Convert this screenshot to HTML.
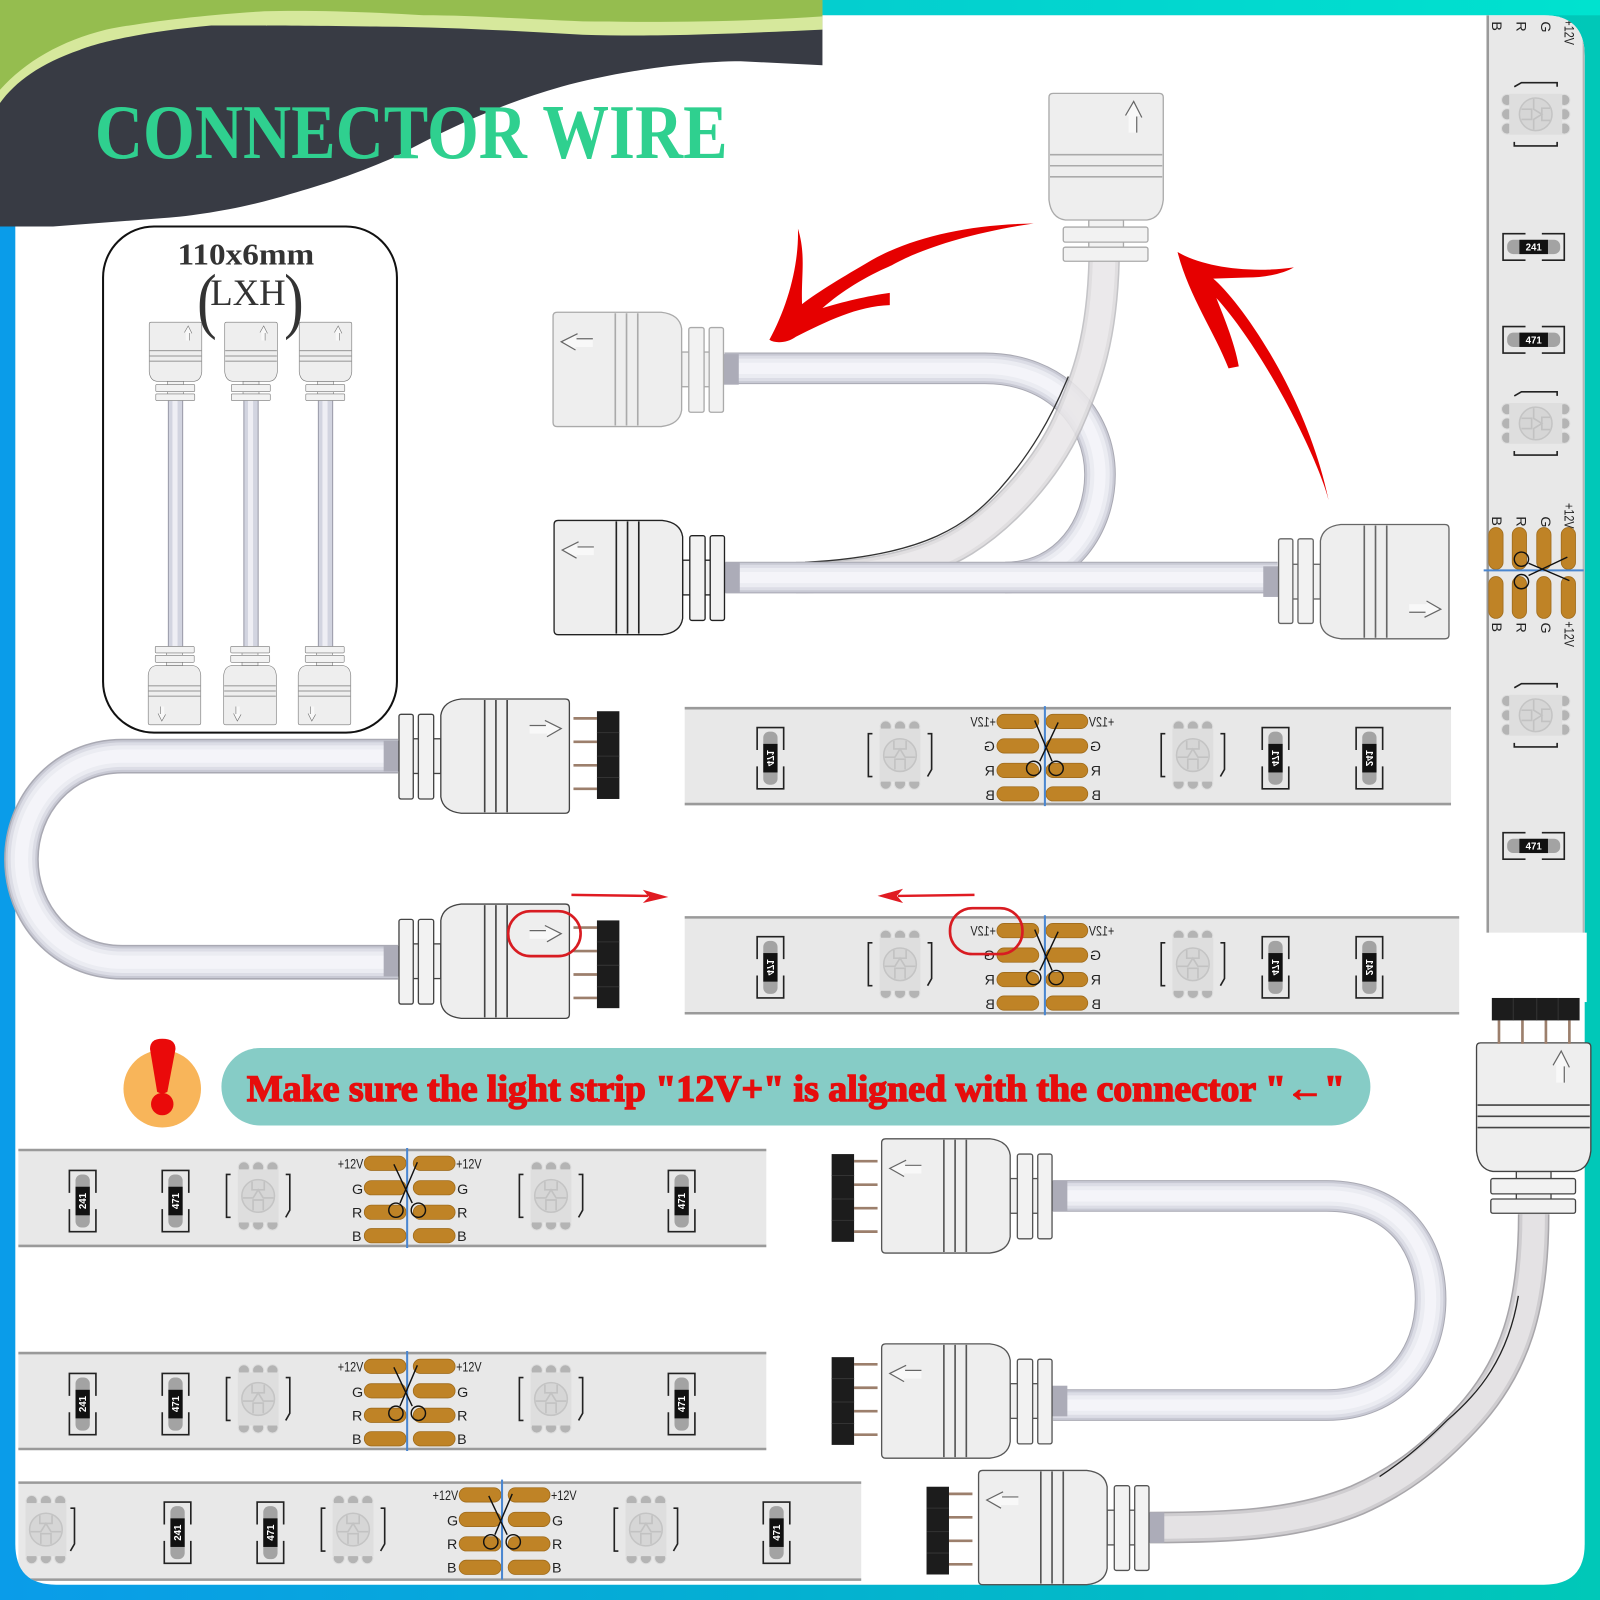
<!DOCTYPE html>
<html><head><meta charset="utf-8"><title>Connector Wire</title>
<style>
html,body{margin:0;padding:0;background:#fff}
svg{display:block}
text{font-family:"Liberation Sans",sans-serif}
.s{font-family:"Liberation Serif",serif}
.l{font-size:14px;fill:#222}
.rt{font-size:9.5px;font-weight:bold;fill:#fff;text-anchor:middle}
.cb{fill:none}
.c1{stroke:#a9a9b3;stroke-width:31}
.c2{stroke:#c8c9d4;stroke-width:29}
.c3{stroke:#dcdde6;stroke-width:25}
.c4{stroke:#ebecf2;stroke-width:19}
.c5{stroke:#f4f4f9;stroke-width:11}
</style></head><body>
<svg xmlns="http://www.w3.org/2000/svg" width="1600" height="1600" viewBox="0 0 1568 1568">
<defs>
<linearGradient id="fr" x1="0" y1="0" x2="1" y2="0"><stop offset="0" stop-color="#0a9ce9"/><stop offset=".4" stop-color="#05acd6"/><stop offset="1" stop-color="#00c8b8"/></linearGradient>
<linearGradient id="tp" x1="0" y1="0" x2="1" y2="0"><stop offset="0" stop-color="#08b8cf"/><stop offset="1" stop-color="#00e2cf"/></linearGradient>
<clipPath id="panel"><path d="M15,15H1513Q1553,15 1553,55V1513Q1553,1553 1513,1553H55Q15,1553 15,1513Z"/></clipPath>

<path id="cy" d="M1082,255C1080,330 1066,370 1046,415C1025,460 985,505 945,530C900,558 840,566 780,566"/>
<path id="ct" d="M710,361H965C1035,361 1078,410 1078,465C1078,515 1045,566 985,566"/>
<path id="cs" d="M711,566H1252"/>
<path id="cl" d="M390,741H120C60,741 21,790 21,842C21,895 60,943 120,943H390"/>
<path id="cr" d="M1032,1172H1300C1370,1172 1402,1220 1402,1273C1402,1330 1365,1377 1300,1377H1032"/>
<path id="cb" d="M1503,1190C1503,1280 1485,1340 1436,1392C1405,1425 1375,1450 1330,1470C1270,1495 1200,1497 1127,1497"/>

<g id="conn">
<g stroke="currentColor" stroke-width="1.3" fill="#f2f2f2">
<rect x="13" y="-17" width="8" height="34"/>
<rect x="34" y="-17" width="8" height="34"/>
<rect x="1" y="-41" width="14" height="83" rx="2"/>
<rect x="20" y="-41" width="15" height="83" rx="2"/>
<path d="M42,-40Q44,-54 62,-56H164Q168,-56 168,-52V52Q168,56 164,56H62Q44,54 42,40Z" fill="#eeeeee"/>
</g>
<path d="M85,-55V55M96,-55V55M107,-55V55" stroke="currentColor" stroke-width="1.6" fill="none"/>
<path d="M129,-31H146L145,-35L160,-27L146,-19V-22H129Z" fill="#f8f8f8" stroke="none"/>
<path d="M129,-30H145M144,-35L160,-27L146,-19" stroke="#666" stroke-width="1.2" fill="none"/>
</g>
<g id="connb">
<rect x="-14" y="-15" width="15" height="30" fill="#acacb8"/>
<use href="#conn"/>
</g>

<g id="plug">
<rect x="-67" y="-52" width="68" height="102" fill="#fff"/>
<g stroke="#9c7f6c" stroke-width="2.6"><path d="M-108,-36H-85M-108,-13H-85M-108,10H-85M-108,33H-85"/></g>
<rect x="-85" y="-43" width="22" height="86" fill="#1c1c1c"/>
<path d="M-85,-22H-63M-85,1H-63M-85,22H-63" stroke="#333" stroke-width="1"/>
</g>

<g id="pads">
<g fill="#bf8326" stroke="#a06c1c" stroke-width=".8">
<rect x="-47" y="-41" width="41" height="14" rx="7"/><rect x="1" y="-41" width="41" height="14" rx="7"/>
<rect x="-47" y="-17" width="41" height="14" rx="7"/><rect x="1" y="-17" width="41" height="14" rx="7"/>
<rect x="-47" y="7" width="41" height="14" rx="7"/><rect x="1" y="7" width="41" height="14" rx="7"/>
<rect x="-47" y="30" width="41" height="14" rx="7"/><rect x="1" y="30" width="41" height="14" rx="7"/>
</g>
<path d="M0,-49V49" stroke="#4a86d0" stroke-width="2" fill="none"/>
<g stroke="#111" stroke-width="1.4" fill="none">
<path d="M-10,-35L7,5M13,-33L-5,5"/>
<circle cx="-11" cy="12" r="7"/><circle cx="11" cy="12" r="7"/>
</g>
</g>

<g id="res">
<path d="M-13,-8V-30H13V-8M-13,8V30H13V8" fill="none" stroke="#222" stroke-width="1.6"/>
<rect x="-7" y="-26" width="14" height="52" rx="6" fill="#a3a3a3"/>
<rect x="-7" y="-14" width="14" height="28" fill="#111"/>
</g>
<g id="resh">
<path d="M-8,-13H-30V13H-8M8,-13H30V13H8" fill="none" stroke="#222" stroke-width="1.6"/>
<rect x="-26" y="-7" width="52" height="14" rx="6" fill="#a3a3a3"/>
<rect x="-14" y="-7" width="28" height="14" fill="#111"/>
</g>

<g id="ledb">
<g fill="#b4b4b4" stroke="#ddd" stroke-width="1">
<circle cx="-14" cy="-28" r="5.5"/><circle cx="0" cy="-28" r="5.5"/><circle cx="14" cy="-28" r="5.5"/>
<circle cx="-14" cy="28" r="5.5"/><circle cx="0" cy="28" r="5.5"/><circle cx="14" cy="28" r="5.5"/>
</g>
<rect x="-20" y="-26" width="40" height="52" fill="#dedede"/>
<circle r="16" fill="#d6d6d6" stroke="#c4c4c4" stroke-width="1.5"/>
<path d="M-6,-14V-6H6V-14M-15,2H-5L0,-6L5,2H15M-5,14V4H5V14" fill="none" stroke="#c2c2c2" stroke-width="1.6"/>
</g>
<g id="led">
<use href="#ledb"/>
<path d="M-27,-21H-31V21H-27M27,-21H31V14L27,21" fill="none" stroke="#222" stroke-width="1.6"/>
</g>
</defs>

<!-- frame -->
<rect width="1568" height="1568" fill="url(#fr)"/>
<rect width="1568" height="15" fill="url(#tp)"/>
<path d="M15,15H1513Q1553,15 1553,55V1513Q1553,1553 1513,1553H55Q15,1553 15,1513Z" fill="#fff"/>

<!-- banner -->
<path d="M0,0H806V64L726,60C670,60 597,72 550,85C493,101 440,125 389,153C350,170 320,180 285,190C240,204 190,212 156,214L52,222H0Z" fill="#383b44"/>
<path d="M0,0H806V29C700,34 640,36 571,34C500,30 430,26 363,26C290,25 240,25 207,25C150,30 100,40 78,49C40,62 15,80 0,101Z" fill="#d6e89c"/>
<path d="M0,0H806V16C720,22 640,22 571,21C500,18 460,15 415,15C350,11 300,10 259,11C210,14 150,20 104,29C60,40 25,60 0,88Z" fill="#95bd4f"/>
<text class="s" x="93" y="155" font-size="76" font-weight="bold" fill="#2fd08f" textLength="620" lengthAdjust="spacingAndGlyphs">CONNECTOR WIRE</text>

<!-- dimension box -->
<rect x="101" y="222" width="288" height="496" rx="50" fill="#fff" stroke="#111" stroke-width="2"/>
<text class="s" x="174" y="259" font-size="30" font-weight="bold" fill="#333" textLength="134" lengthAdjust="spacingAndGlyphs">110x6mm</text>
<text class="s" x="243" y="299" font-size="36" fill="#333" text-anchor="middle">LXH</text>
<text class="s" x="194" y="318" font-size="72" fill="#333" transform="translate(38,0) scale(.8,1)">(</text>
<text class="s" x="348" y="318" font-size="72" fill="#333" transform="scale(.8,1)">)</text>
<g fill="#d2d4e0" stroke="#9a9aa8" stroke-width="1">
<rect x="165" y="390" width="14" height="246"/><rect x="239" y="390" width="14" height="246"/><rect x="312" y="390" width="14" height="246"/>
</g>
<g fill="#eeeef4"><rect x="169" y="390" width="5" height="246"/><rect x="243" y="390" width="5" height="246"/><rect x="316" y="390" width="5" height="246"/></g>
<g style="color:#777">
<use href="#conn" transform="translate(172,393) rotate(-90) scale(.46,-.46)"/>
<use href="#conn" transform="translate(246,393) rotate(-90) scale(.46,-.46)"/>
<use href="#conn" transform="translate(319,393) rotate(-90) scale(.46,-.46)"/>
<use href="#conn" transform="translate(171,633) rotate(90) scale(.46,-.46)"/>
<use href="#conn" transform="translate(245,633) rotate(90) scale(.46,-.46)"/>
<use href="#conn" transform="translate(318,633) rotate(90) scale(.46,-.46)"/>
</g>

<!-- cables: upper group -->
<g class="cb">
<use href="#ct" class="c1"/><use href="#ct" class="c2"/><use href="#ct" class="c3"/><use href="#ct" class="c4"/><use href="#ct" class="c5"/>
</g>
<g class="cb" opacity=".88">
<use href="#cy" stroke="#bdbcc0" stroke-width="31"/>
<use href="#cy" stroke="#dcdadc" stroke-width="28"/>
<use href="#cy" stroke="#e9e7e9" stroke-width="22"/>
</g>
<path d="M1047,369C1030,410 1010,445 979,480C950,512 910,545 789,551" fill="none" stroke="#333" stroke-width="1.3"/>
<g class="cb">
<use href="#cs" class="c1"/><use href="#cs" class="c2"/><use href="#cs" class="c3"/><use href="#cs" class="c4"/><use href="#cs" class="c5"/>
</g>

<!-- cables: left loop -->
<g class="cb" style="transform-origin:0 0">
<use href="#cl" stroke="#a9a9b3" stroke-width="34"/><use href="#cl" stroke="#c8c9d4" stroke-width="31"/><use href="#cl" stroke="#dcdde6" stroke-width="27"/><use href="#cl" stroke="#ebecf2" stroke-width="21"/><use href="#cl" stroke="#f4f4f9" stroke-width="13"/>
</g>
<!-- cables: right loop -->
<g class="cb">
<use href="#cr" class="c1"/><use href="#cr" class="c2"/><use href="#cr" class="c3"/><use href="#cr" class="c4"/><use href="#cr" class="c5"/>
</g>
<!-- cable: big bottom -->
<g class="cb">
<use href="#cb" stroke="#a8a6aa" stroke-width="31"/>
<use href="#cb" stroke="#cfcdd0" stroke-width="28"/>
<use href="#cb" stroke="#e4e2e4" stroke-width="22"/>
<path stroke="#222" stroke-width="1.3" d="M1488,1270C1478,1330 1450,1365 1418,1392C1395,1415 1375,1432 1352,1447"/>
</g>

<!-- connectors -->
<use href="#conn" style="color:#aaa" transform="translate(1084,257) rotate(-90) scale(.985,-1)"/>
<use href="#connb" style="color:#aaa" transform="translate(710,362) scale(-1,1)"/>
<use href="#connb" style="color:#222" transform="translate(711,566) scale(-1,1)"/>
<use href="#connb" style="color:#666" transform="translate(1252,570) scale(1,-1)"/>
<use href="#connb" style="color:#444" transform="translate(390,741)"/>
<use href="#connb" style="color:#444" transform="translate(390,942)"/>
<use href="#connb" style="color:#555" transform="translate(1032,1172) scale(-1,1)"/>
<use href="#connb" style="color:#555" transform="translate(1032,1373) scale(-1,1)"/>
<use href="#connb" style="color:#555" transform="translate(1127,1497) scale(-1,1)"/>
<use href="#conn" style="color:#444" transform="translate(1503,1190) rotate(-90) scale(1,-1)"/>

<!-- strip A -->
<rect x="670" y="694" width="752" height="94" fill="#e8e8e8"/><path d="M670,694H1422M670,788H1422" stroke="#9a9a9a" stroke-width="2.5"/>
<use href="#plug" transform="translate(670,740)"/>
<use href="#led" x="882" y="740"/><use href="#led" x="1169" y="740"/>
<use href="#res" x="755" y="743"/><use href="#res" x="1250" y="743"/><use href="#res" x="1342" y="743"/>
<text class="rt" transform="translate(755,743) scale(-1,1) rotate(-90)" y="3.5">471</text>
<text class="rt" transform="translate(1250,743) scale(-1,1) rotate(-90)" y="3.5">471</text>
<text class="rt" transform="translate(1342,743) scale(-1,1) rotate(-90)" y="3.5">241</text>
<g transform="translate(1024,741)"><use href="#pads"/>
<text class="l" transform="translate(-48,-29) scale(-1,1)" textLength="25" lengthAdjust="spacingAndGlyphs">+12V</text>
<text class="l" transform="translate(-49,-5) scale(-1,1)">G</text><text class="l" transform="translate(-49,19) scale(-1,1)">R</text><text class="l" transform="translate(-49,43) scale(-1,1)">B</text>
<text class="l" transform="translate(68,-29) scale(-1,1)" textLength="25" lengthAdjust="spacingAndGlyphs">+12V</text>
<text class="l" transform="translate(55,-5) scale(-1,1)">G</text><text class="l" transform="translate(55,19) scale(-1,1)">R</text><text class="l" transform="translate(55,43) scale(-1,1)">B</text>
</g>

<!-- strip B -->
<rect x="670" y="899" width="760" height="94" fill="#e8e8e8"/><path d="M670,899H1430M670,993H1430" stroke="#9a9a9a" stroke-width="2.5"/>
<use href="#plug" transform="translate(670,945)"/>
<use href="#led" x="882" y="945"/><use href="#led" x="1169" y="945"/>
<use href="#res" x="755" y="948"/><use href="#res" x="1250" y="948"/><use href="#res" x="1342" y="948"/>
<text class="rt" transform="translate(755,948) scale(-1,1) rotate(-90)" y="3.5">471</text>
<text class="rt" transform="translate(1250,948) scale(-1,1) rotate(-90)" y="3.5">471</text>
<text class="rt" transform="translate(1342,948) scale(-1,1) rotate(-90)" y="3.5">241</text>
<g transform="translate(1024,946)"><use href="#pads"/>
<text class="l" transform="translate(-48,-29) scale(-1,1)" textLength="25" lengthAdjust="spacingAndGlyphs">+12V</text>
<text class="l" transform="translate(-49,-5) scale(-1,1)">G</text><text class="l" transform="translate(-49,19) scale(-1,1)">R</text><text class="l" transform="translate(-49,43) scale(-1,1)">B</text>
<text class="l" transform="translate(68,-29) scale(-1,1)" textLength="25" lengthAdjust="spacingAndGlyphs">+12V</text>
<text class="l" transform="translate(55,-5) scale(-1,1)">G</text><text class="l" transform="translate(55,19) scale(-1,1)">R</text><text class="l" transform="translate(55,43) scale(-1,1)">B</text>
</g>

<!-- strip C -->
<rect x="18" y="1127" width="734" height="94" fill="#e8e8e8"/><path d="M18,1127H752M18,1221H752" stroke="#9a9a9a" stroke-width="2.5"/>
<use href="#plug" transform="translate(752,1174) scale(-1,1)"/>
<use href="#led" x="253" y="1172"/><use href="#led" x="540" y="1172"/>
<use href="#res" x="81" y="1177"/><use href="#res" x="172" y="1177"/><use href="#res" x="668" y="1177"/>
<text class="rt" transform="translate(81,1177) rotate(-90)" y="3.5">241</text>
<text class="rt" transform="translate(172,1177) rotate(-90)" y="3.5">471</text>
<text class="rt" transform="translate(668,1177) rotate(-90)" y="3.5">471</text>
<g transform="translate(399,1174)"><use href="#pads" transform="scale(-1,1)"/>
<text class="l" x="-68" y="-29" textLength="25" lengthAdjust="spacingAndGlyphs">+12V</text>
<text class="l" x="-54" y="-4">G</text><text class="l" x="-54" y="19">R</text><text class="l" x="-54" y="42">B</text>
<text class="l" x="48" y="-29" textLength="25" lengthAdjust="spacingAndGlyphs">+12V</text>
<text class="l" x="49" y="-4">G</text><text class="l" x="49" y="19">R</text><text class="l" x="49" y="42">B</text>
</g>

<!-- strip D -->
<rect x="18" y="1326" width="734" height="94" fill="#e8e8e8"/><path d="M18,1326H752M18,1420H752" stroke="#9a9a9a" stroke-width="2.5"/>
<use href="#plug" transform="translate(752,1373) scale(-1,1)"/>
<use href="#led" x="253" y="1371"/><use href="#led" x="540" y="1371"/>
<use href="#res" x="81" y="1376"/><use href="#res" x="172" y="1376"/><use href="#res" x="668" y="1376"/>
<text class="rt" transform="translate(81,1376) rotate(-90)" y="3.5">241</text>
<text class="rt" transform="translate(172,1376) rotate(-90)" y="3.5">471</text>
<text class="rt" transform="translate(668,1376) rotate(-90)" y="3.5">471</text>
<g transform="translate(399,1373)"><use href="#pads" transform="scale(-1,1)"/>
<text class="l" x="-68" y="-29" textLength="25" lengthAdjust="spacingAndGlyphs">+12V</text>
<text class="l" x="-54" y="-4">G</text><text class="l" x="-54" y="19">R</text><text class="l" x="-54" y="42">B</text>
<text class="l" x="48" y="-29" textLength="25" lengthAdjust="spacingAndGlyphs">+12V</text>
<text class="l" x="49" y="-4">G</text><text class="l" x="49" y="19">R</text><text class="l" x="49" y="42">B</text>
</g>

<!-- strip E -->
<g clip-path="url(#panel)">
<rect x="18" y="1453" width="827" height="95" fill="#e8e8e8"/><path d="M18,1453H845M18,1548H845" stroke="#9a9a9a" stroke-width="2.5"/>
<use href="#ledb" x="45" y="1499"/>
<path d="M69,1478H73V1513L69,1520" fill="none" stroke="#222" stroke-width="1.6"/>
</g>
<use href="#plug" transform="translate(845,1500) scale(-1,1)"/>
<use href="#led" x="346" y="1499"/><use href="#led" x="633" y="1499"/>
<use href="#res" x="174" y="1502"/><use href="#res" x="265" y="1502"/><use href="#res" x="761" y="1502"/>
<text class="rt" transform="translate(174,1502) rotate(-90)" y="3.5">241</text>
<text class="rt" transform="translate(265,1502) rotate(-90)" y="3.5">471</text>
<text class="rt" transform="translate(761,1502) rotate(-90)" y="3.5">471</text>
<g transform="translate(492,1499)"><use href="#pads" transform="scale(-1,1)"/>
<text class="l" x="-68" y="-29" textLength="25" lengthAdjust="spacingAndGlyphs">+12V</text>
<text class="l" x="-54" y="-4">G</text><text class="l" x="-54" y="19">R</text><text class="l" x="-54" y="42">B</text>
<text class="l" x="48" y="-29" textLength="25" lengthAdjust="spacingAndGlyphs">+12V</text>
<text class="l" x="49" y="-4">G</text><text class="l" x="49" y="19">R</text><text class="l" x="49" y="42">B</text>
</g>

<!-- vertical strip -->
<g clip-path="url(#panel)">
<rect x="1458" y="10" width="100" height="905" fill="#e8e8e8"/>
<path d="M1458,10V915" stroke="#9a9a9a" stroke-width="2.5"/><path d="M1552,10V915" stroke="#b5b5b5" stroke-width="2"/>
<text class="l" transform="translate(1462,21) rotate(90)">B</text>
<text class="l" transform="translate(1486,21) rotate(90)">R</text>
<text class="l" transform="translate(1510,21) rotate(90)">G</text>
<text class="l" transform="translate(1533,19) rotate(90)" textLength="25" lengthAdjust="spacingAndGlyphs">+12V</text>
</g>
<g transform="translate(1505,112) rotate(-90) scale(1,-1)"><use href="#led"/></g>
<g transform="translate(1505,415) rotate(-90) scale(1,-1)"><use href="#led"/></g>
<g transform="translate(1505,701) rotate(-90) scale(1,-1)"><use href="#led"/></g>
<use href="#resh" x="1503" y="242"/><use href="#resh" x="1503" y="333"/><use href="#resh" x="1503" y="829"/>
<text class="rt" x="1503" y="245.5">241</text><text class="rt" x="1503" y="336.5">471</text><text class="rt" x="1503" y="832.5">471</text>
<g transform="translate(1503,559) rotate(90) scale(-1,1)"><use href="#pads"/></g>
<text class="l" transform="translate(1462,506) rotate(90)">B</text>
<text class="l" transform="translate(1486,506) rotate(90)">R</text>
<text class="l" transform="translate(1510,506) rotate(90)">G</text>
<text class="l" transform="translate(1533,493) rotate(90)" textLength="25" lengthAdjust="spacingAndGlyphs">+12V</text>
<text class="l" transform="translate(1462,610) rotate(90)">B</text>
<text class="l" transform="translate(1486,610) rotate(90)">R</text>
<text class="l" transform="translate(1510,610) rotate(90)">G</text>
<text class="l" transform="translate(1533,609) rotate(90)" textLength="25" lengthAdjust="spacingAndGlyphs">+12V</text>
<use href="#plug" transform="translate(1505,915) rotate(-90)"/>

<!-- big red arrows -->
<path d="M1013,219C950,220 895,232 854,255C825,272 803,285 786,298C785,270 790,250 782,224C783,260 772,300 754,333C760,337 772,336 780,330C810,315 840,300 872,299L872,287C850,290 825,296 806,302C825,285 850,270 874,260C900,245 950,228 1013,219Z" fill="#e60000"/>
<path d="M1154,247C1180,262 1225,268 1268,262C1258,268 1240,272 1222,272L1189,273C1215,295 1280,385 1302,490C1292,450 1240,345 1192,292C1197,305 1210,335 1214,359L1204,361C1190,325 1165,290 1154,247Z" fill="#e60000"/>

<!-- small red arrows & marks -->
<path d="M560,877L635,878" stroke="#e01b22" stroke-width="2.4" fill="none"/>
<path d="M655,879L630,872L636,879L630,885Z" fill="#e01b22"/>
<path d="M955,877L880,878" stroke="#e01b22" stroke-width="2.4" fill="none"/>
<path d="M860,878L885,871L879,878L885,885Z" fill="#e01b22"/>
<rect x="498" y="893" width="71" height="44" rx="22" fill="none" stroke="#d81c22" stroke-width="2.6"/>
<rect x="931" y="890" width="71" height="45" rx="22" fill="none" stroke="#d81c22" stroke-width="2.6"/>

<!-- warning -->
<circle cx="159" cy="1067" r="38" fill="#f8b55a"/>
<path d="M147,1028Q147,1018 159,1018Q172,1018 172,1028L164,1070Q159,1073 154,1070Z" fill="#ea0a0a"/>
<ellipse cx="159" cy="1082" rx="11" ry="11" fill="#ea0a0a"/>
<rect x="217" y="1027" width="1126" height="76" rx="38" fill="#86ccc6"/>
<text class="s" x="242" y="1079" font-size="36" font-weight="bold" fill="#e60d0d" stroke="#e60d0d" stroke-width="1.4" textLength="1076" lengthAdjust="spacingAndGlyphs">Make sure the light strip "12V+" is aligned with the connector "←"</text>
</svg>
</body></html>
